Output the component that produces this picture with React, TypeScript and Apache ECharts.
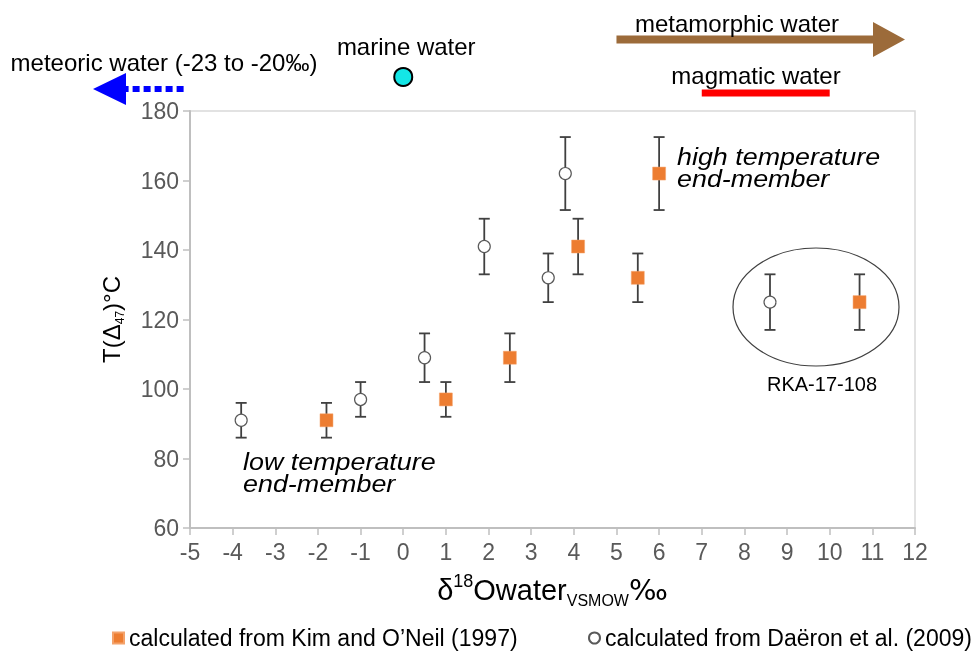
import React, { useEffect, useRef } from "react";
import * as echarts from "echarts";

const kimX = [-1.8, 1.0, 2.5, 4.1, 5.5, 6.0, 10.7];
const kimT = [91, 97, 109, 141, 132, 162, 125];
const kimErr = [5, 5, 7, 8, 7, 10.5, 8];

const daeronX = [-3.8, -1.0, 0.5, 1.9, 3.4, 3.8, 8.6];
const daeronT = [91, 97, 109, 141, 132, 162, 125];
const daeronErr = [5, 5, 7, 8, 7, 10.5, 8];

const xTicks = { min: -5, max: 12, interval: 1 };
const yTicks = { min: 60, max: 180, interval: 20 };

const marineWaterX = 0;
const magmaticRange = [7, 10];
const metamorphicStart = 5;
const meteoricStart = -5.15;

const kimName = "calculated from Kim and O\u2019Neil (1997)";
const daeronName = "calculated from Da\u00ebron et al. (2009)";

const FONT = "'Liberation Sans', Arial, sans-serif";

export default function App() {
  const ref = useRef<HTMLDivElement>(null);
  useEffect(() => {
    if (!ref.current) return;
    const chart = echarts.init(ref.current, undefined, { renderer: "svg" });
    const errData = (xs: number[], ts: number[], es: number[]) =>
      xs.map((x, i) => [x, ts[i] - es[i], ts[i] + es[i]]);
    const errorSeries = (name: string, data: number[][]) => ({
      type: "custom",
      name,
      z: 1,
      data,
      renderItem: (_p: any, api: any) => {
        const x = api.value(0);
        const lo = api.coord([x, api.value(1)]);
        const hi = api.coord([x, api.value(2)]);
        const w = 5.5;
        const st = { stroke: "#404040", lineWidth: 1.8 };
        return {
          type: "group",
          children: [
            { type: "line", shape: { x1: lo[0], y1: lo[1], x2: hi[0], y2: hi[1] }, style: st },
            { type: "line", shape: { x1: lo[0] - w, y1: lo[1], x2: lo[0] + w, y2: lo[1] }, style: st },
            { type: "line", shape: { x1: hi[0] - w, y1: hi[1], x2: hi[0] + w, y2: hi[1] }, style: st },
          ],
        };
      },
    });
    const axisCommon = {
      axisLine: { show: true, onZero: false, lineStyle: { color: "#bfbfbf", width: 2 } },
      axisTick: { show: true, length: 7, lineStyle: { color: "#bfbfbf", width: 1.5 } },
      splitLine: { show: false },
    };
    const legendCommon = {
      top: 626,
      padding: 0,
      itemWidth: 11,
      itemHeight: 11,
      itemGap: 0,
      textStyle: { fontSize: 23, lineHeight: 24, color: "#000", fontFamily: FONT },
    };
    chart.setOption({
      animation: false,
      textStyle: { fontFamily: FONT },
      grid: { left: 190, top: 111, right: 59, bottom: 125, show: true, borderColor: "#d9d9d9", borderWidth: 1.5 },
      xAxis: {
        type: "value",
        ...xTicks,
        ...axisCommon,
        axisLabel: { fontSize: 23, color: "#595959", margin: 12, fontFamily: FONT },
        name: "{a|\u03b4}{sup|18}{a|Owater}{sub|VSMOW}{pm|\u2030}",
        nameLocation: "middle",
        nameGap: 44,
        nameTextStyle: {
          rich: {
            a: { fontSize: 29, color: "#000", fontFamily: FONT, lineHeight: 36 },
            sup: { fontSize: 18, color: "#000", fontFamily: FONT, verticalAlign: "top", lineHeight: 36, padding: [0, 0, 12, 0] },
            sub: { fontSize: 16, color: "#000", fontFamily: FONT, verticalAlign: "bottom", lineHeight: 36, padding: [10, 0, 0, 0] },
            pm: { fontSize: 29, color: "#000", fontFamily: "'DejaVu Sans', sans-serif", lineHeight: 36 },
          },
        },
      },
      yAxis: {
        type: "value",
        ...yTicks,
        ...axisCommon,
        axisLabel: { fontSize: 23, color: "#595959", margin: 11, fontFamily: FONT },
        name: "{a|T(\u0394}{sub|47}{a|)\u00b0C}",
        nameLocation: "middle",
        nameRotate: 90,
        nameGap: 64,
        nameTextStyle: {
          rich: {
            a: { fontSize: 24, color: "#000", fontFamily: FONT, lineHeight: 30 },
            sub: { fontSize: 12, color: "#000", fontFamily: FONT, verticalAlign: "bottom", lineHeight: 30, padding: [8, 0, 0, 0] },
          },
        },
      },
      legend: [
        { ...legendCommon, left: 112, data: [{ name: kimName, icon: "rect" }] },
        { ...legendCommon, left: 588, data: [{ name: daeronName, icon: "circle" }] },
      ],
      series: [
        errorSeries("kimErr", errData(kimX, kimT, kimErr)),
        errorSeries("daeronErr", errData(daeronX, daeronT, daeronErr)),
        {
          type: "scatter",
          name: kimName,
          z: 3,
          symbol: "rect",
          symbolSize: 13,
          itemStyle: { color: "#ed7d31", borderColor: "#f4a26a", borderWidth: 0.5, opacity: 1 },
          data: kimX.map((x, i) => [x, kimT[i]]),
        },
        {
          type: "scatter",
          name: daeronName,
          z: 3,
          symbol: "circle",
          symbolSize: 12,
          itemStyle: { color: "#fff", borderColor: "#595959", borderWidth: 1.2, opacity: 1 },
          data: daeronX.map((x, i) => [x, daeronT[i]]),
        },
      ],
    });

    const px = (v: number) => chart.convertToPixel({ xAxisIndex: 0 }, v) as number;
    const txt = (text: string, x: number, y: number, extra: any = {}) => ({
      type: "text",
      z: 10,
      style: {
        text,
        x,
        y,
        fontSize: 24,
        fontFamily: FONT,
        fill: "#000",
        align: "center",
        verticalAlign: "middle",
        ...extra,
      },
    });
    const italic = (text: string, x: number, y: number) => ({
      type: "text",
      z: 10,
      x,
      y,
      scaleX: 1.12,
      originX: 0,
      originY: 0,
      style: {
        text,
        x: 0,
        y: 0,
        fontSize: 24,
        fontStyle: "italic",
        fontFamily: FONT,
        fill: "#000",
        align: "left",
        verticalAlign: "top",
        lineHeight: 22,
      },
    });
    const meteoricX = px(meteoricStart);
    const metaX = px(metamorphicStart);
    const marineX = px(marineWaterX);
    chart.setOption({
      graphic: [
        txt("meteoric water (-23 to -20\u2030)", 164, 62),
        {
          type: "line",
          shape: { x1: meteoricX, y1: 89, x2: 124, y2: 89 },
          style: { stroke: "#0000ff", lineWidth: 6, lineDash: [7, 4] },
        },
        {
          type: "polygon",
          shape: { points: [[93, 89], [126, 73], [126, 105]] },
          style: { fill: "#0000ff" },
        },
        txt("marine water", marineX + 3, 46),
        {
          type: "circle",
          shape: { cx: marineX, cy: 77, r: 9 },
          style: { fill: "#14e6e6", stroke: "#000", lineWidth: 2 },
        },
        txt("metamorphic water", 737, 23),
        {
          type: "polygon",
          shape: {
            points: [
              [metaX, 35.5],
              [873, 35.5],
              [873, 22],
              [905, 39.5],
              [873, 57],
              [873, 43.5],
              [metaX, 43.5],
            ],
          },
          style: { fill: "#9c6b3a" },
        },
        txt("magmatic water", 756, 75),
        {
          type: "line",
          shape: { x1: px(magmaticRange[0]), y1: 93, x2: px(magmaticRange[1]), y2: 93 },
          style: { stroke: "#ff0000", lineWidth: 7 },
        },
        italic("high temperature\nend-member", 677, 146),
        italic("low temperature\nend-member", 243, 451),
        {
          type: "ellipse",
          shape: { cx: 816, cy: 307, rx: 83, ry: 59 },
          style: { fill: "none", stroke: "#404040", lineWidth: 1.2 },
        },
        txt("RKA-17-108", 822, 384, { fontSize: 20 }),
      ],
    });
    return () => chart.dispose();
  }, []);
  return <div ref={ref} style={{ position: "fixed", left: 0, top: 0, width: 974, height: 653 }} />;
}
